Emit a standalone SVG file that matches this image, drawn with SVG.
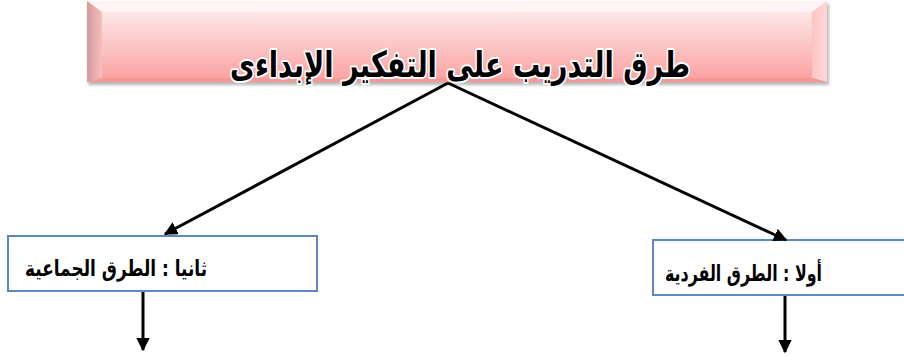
<svg xmlns="http://www.w3.org/2000/svg" width="904" height="356" viewBox="0 0 904 356">
<defs>
<linearGradient id="pink" x1="0" y1="0" x2="0" y2="1">
<stop offset="0" stop-color="#fde6e6"/>
<stop offset="0.5" stop-color="#fbc6c6"/>
<stop offset="1" stop-color="#fca3a3"/>
</linearGradient>
<linearGradient id="lbev" x1="0" y1="0" x2="1" y2="0">
<stop offset="0" stop-color="#d79a9a"/>
<stop offset="1" stop-color="#f6bebe"/>
</linearGradient>
<linearGradient id="rbev" x1="0" y1="0" x2="1" y2="0">
<stop offset="0" stop-color="#fcc4c4"/>
<stop offset="1" stop-color="#ffd6d6"/>
</linearGradient>
<marker id="ah" viewBox="0 0 10 10" refX="9" refY="5" markerWidth="4.5" markerHeight="4.5" orient="auto-start-reverse">
<path d="M0,0 L10,5 L0,10 Z" fill="#000"/>
</marker>
<filter id="sh" x="-5%" y="-20%" width="110%" height="150%">
<feGaussianBlur stdDeviation="1.5"/>
</filter>
</defs>
<style>
.box{fill:#fff;stroke:#5b87c5;stroke-width:2}
.lbl{font-family:"DejaVu Sans",sans-serif;font-weight:bold;font-size:22px;fill:#000}
.title{font-family:"DejaVu Sans",sans-serif;font-weight:bold;font-size:36px;fill:#000;stroke:#fff;stroke-width:4;paint-order:stroke;stroke-linejoin:round}
.con{stroke:#000;stroke-width:3;fill:none;marker-end:url(#ah)}
</style>
<rect x="0" y="0" width="904" height="356" fill="#fff"/>
<g id="title-node">
<rect x="88" y="4" width="741" height="81" fill="#999" filter="url(#sh)" opacity="0.7"/>
<rect x="87" y="1" width="740" height="81" fill="url(#pink)"/>
<polygon points="87,1 827,1 812,12 102,12" fill="#fff4f4"/>
<polygon points="87,1 102,12 102,78 87,82" fill="url(#lbev)"/>
<polygon points="827,1 812,12 812,78 827,82" fill="url(#rbev)"/>
<polygon points="87,82 102,78 812,78 827,82" fill="#f59898"/>
<rect x="102" y="12" width="710" height="66" fill="url(#pink)"/>
<text class="title" x="460" y="77" text-anchor="middle" direction="rtl" textLength="460" lengthAdjust="spacingAndGlyphs">طرق التدريب على التفكير الإبداءى</text>
</g>
<g id="left-node">
<rect class="box" x="8" y="236" width="309" height="55"/>
<text class="lbl" x="207" y="276" text-anchor="start" direction="rtl" textLength="182" lengthAdjust="spacingAndGlyphs">ثانيا : الطرق الجماعية</text>
</g>
<g id="right-node">
<rect class="box" x="653" y="240" width="260" height="55"/>
<text class="lbl" x="822" y="281" text-anchor="start" direction="rtl" textLength="157" lengthAdjust="spacingAndGlyphs">أولا : الطرق الفردية</text>
</g>
<g id="connectors">
<line class="con" x1="448" y1="83" x2="165" y2="234"/>
<line class="con" x1="448" y1="83" x2="786" y2="240"/>
<line class="con" x1="143" y1="292" x2="143" y2="350"/>
<line class="con" x1="785" y1="296" x2="785" y2="352"/>
</g>
</svg>
